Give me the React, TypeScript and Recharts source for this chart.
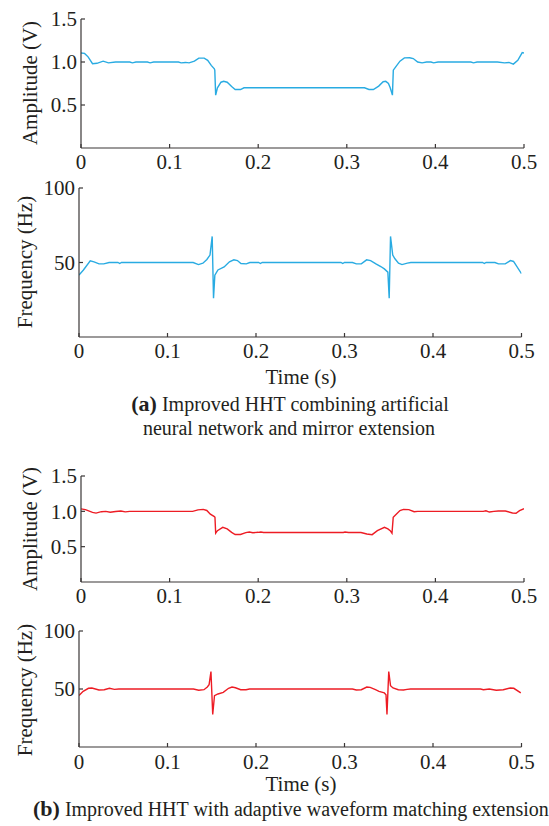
import React from 'react';
import { LineChart, Line, XAxis, YAxis } from 'recharts';

const timeTicks = [0, 0.1, 0.2, 0.3, 0.4, 0.5];
const timeTickLabels = ['0', '0.1', '0.2', '0.3', '0.4', '0.5'];
const ampTicks = [0.5, 1.0, 1.5];
const ampTickLabels = ['0.5', '1.0', '1.5'];
const freqTicks = [50, 100];
const freqTickLabels = ['50', '100'];

// (a) amplitude
const ampATime = [0, 0.004, 0.008, 0.013, 0.018, 0.025, 0.031, 0.039, 0.055, 0.058, 0.062, 0.075, 0.078, 0.082, 0.11, 0.113, 0.118, 0.122, 0.128, 0.133, 0.139, 0.143, 0.147, 0.1505, 0.151, 0.152, 0.154, 0.158, 0.161, 0.165, 0.17, 0.174, 0.18, 0.184, 0.32, 0.325, 0.33, 0.336, 0.341, 0.344, 0.347, 0.349, 0.3515, 0.3525, 0.355, 0.36, 0.365, 0.371, 0.375, 0.38, 0.385, 0.39, 0.395, 0.398, 0.403, 0.44, 0.443, 0.447, 0.47, 0.478, 0.483, 0.488, 0.493, 0.498, 0.5];
const ampAValues = [1.105, 1.1, 1.06, 0.98, 0.985, 1.01, 0.99, 1.0, 1.0, 0.99, 1.0, 1.0, 0.99, 1.0, 1.0, 0.99, 0.995, 0.99, 1.01, 1.045, 1.045, 1.02, 0.96, 0.92, 0.905, 0.615, 0.7, 0.765, 0.775, 0.765, 0.715, 0.68, 0.68, 0.7, 0.7, 0.68, 0.68, 0.72, 0.77, 0.775, 0.75, 0.7, 0.615, 0.905, 0.94, 1.01, 1.048, 1.05, 1.04, 1.0, 0.99, 1.0, 1.0, 0.99, 1.0, 1.0, 0.99, 1.0, 1.0, 0.99, 0.995, 0.975, 1.02, 1.11, 1.105];

// (a) frequency
const freqATime = [0, 0.005, 0.0127, 0.017, 0.0226, 0.028, 0.034, 0.044, 0.046, 0.048, 0.129, 0.135, 0.14, 0.1445, 0.148, 0.1505, 0.152, 0.1535, 0.157, 0.164, 0.17, 0.175, 0.179, 0.183, 0.189, 0.193, 0.203, 0.205, 0.207, 0.296, 0.298, 0.3, 0.309, 0.3134, 0.319, 0.325, 0.3295, 0.3355, 0.341, 0.345, 0.349, 0.3505, 0.352, 0.3545, 0.357, 0.361, 0.365, 0.371, 0.375, 0.456, 0.458, 0.46, 0.47, 0.474, 0.4816, 0.4875, 0.491, 0.5];
const freqAValues = [41.5, 45, 51.1, 50.4, 49.1, 49.1, 50, 50, 49.3, 50, 50, 48.6, 49.5, 52, 55, 67.5, 26, 41.5, 45, 47, 50.5, 51.8, 51.3, 49.3, 49.1, 50, 50, 49.3, 50, 50, 49.3, 50, 50, 49.1, 49.1, 51.8, 51.3, 49.1, 47.3, 45.7, 43.5, 26, 67.5, 55, 52.5, 49.6, 48.6, 49.6, 50, 50, 49.3, 50, 50, 49.1, 49.1, 51.3, 50.7, 42.5];

// (b) amplitude
const ampBTime = [0, 0.005, 0.013, 0.017, 0.023, 0.028, 0.033, 0.039, 0.045, 0.05, 0.055, 0.126, 0.132, 0.138, 0.142, 0.146, 0.1505, 0.1512, 0.152, 0.154, 0.16, 0.165, 0.17, 0.174, 0.18, 0.186, 0.19, 0.194, 0.2, 0.203, 0.206, 0.296, 0.298, 0.302, 0.316, 0.3226, 0.3286, 0.3345, 0.3425, 0.3464, 0.349, 0.351, 0.3524, 0.3544, 0.36, 0.364, 0.37, 0.376, 0.38, 0.454, 0.457, 0.461, 0.466, 0.471, 0.479, 0.487, 0.491, 0.495, 0.5];
const ampBValues = [1.035, 1.025, 0.986, 0.975, 0.995, 1.0, 0.988, 0.998, 1.005, 0.992, 1.0, 1.0, 1.02, 1.028, 1.012, 0.96, 0.925, 0.915, 0.69, 0.726, 0.774, 0.752, 0.703, 0.672, 0.672, 0.698, 0.708, 0.698, 0.703, 0.708, 0.7, 0.7, 0.708, 0.7, 0.7, 0.68, 0.67, 0.726, 0.774, 0.752, 0.726, 0.69, 0.915, 0.94, 1.01, 1.028, 1.024, 0.995, 1.0, 1.0, 1.008, 0.99, 1.0, 1.005, 1.005, 0.976, 0.972, 1.01, 1.038];

// (b) frequency
const freqBTime = [0, 0.0047, 0.0107, 0.0146, 0.0225, 0.0285, 0.0344, 0.04, 0.045, 0.1293, 0.1353, 0.1412, 0.145, 0.147, 0.1491, 0.1511, 0.1531, 0.157, 0.163, 0.169, 0.1729, 0.1768, 0.1827, 0.1887, 0.1926, 0.309, 0.3133, 0.319, 0.3252, 0.329, 0.335, 0.339, 0.345, 0.3469, 0.348, 0.35, 0.352, 0.3548, 0.3608, 0.3667, 0.3707, 0.3746, 0.4537, 0.457, 0.4636, 0.4715, 0.4794, 0.4873, 0.4913, 0.4992];
const freqBValues = [44.3, 48, 50.6, 50.9, 49.1, 49.4, 50.6, 49.7, 50, 50, 48.9, 49.4, 51.7, 53.7, 65.1, 28, 44.3, 45.7, 47.1, 50.6, 51.7, 51.1, 49.4, 49.4, 50, 50, 49.1, 49.4, 51.7, 51.4, 49.4, 48, 46.6, 45.1, 28, 65.1, 52.9, 50.9, 49.4, 49.1, 49.7, 50, 50, 49.4, 50, 48.9, 49.4, 50.9, 50.6, 46.6];

const zip = (ts: number[], vs: number[]) => ts.map((t, i) => ({ t, v: vs[i] }));

const FONT = '"Liberation Serif", "Times New Roman", Times, serif';
const TEXT = '#231f20';
const AXIS = '#3a3636';
const BLUE = '#29abe2';
const RED = '#ed1c24';

type PanelProps = {
  top: number;
  height: number;
  mTop: number;
  mBottom: number;
  left: number;
  right: number;
  data: { t: number; v: number }[];
  color: string;
  yDomain: [number, number];
  yTicks: number[];
  yLabels: string[];
  xTickMargin: number;
};

function Panel(p: PanelProps) {
  const tickStyle = { fontSize: 21, fill: TEXT, fontFamily: FONT };
  return (
    <div style={{ position: 'absolute', left: 0, top: p.top }}>
      <LineChart
        width={549}
        height={p.height}
        data={p.data}
        margin={{ top: p.mTop, bottom: p.mBottom, left: 0, right: 549 - p.right }}
      >
        <XAxis
          dataKey="t"
          type="number"
          domain={[0, 0.5]}
          ticks={timeTicks}
          interval={0}
          tickFormatter={(v: number) => timeTickLabels[timeTicks.indexOf(v)] ?? String(v)}
          height={30}
          tickSize={-4}
          tickMargin={p.xTickMargin}
          axisLine={{ stroke: AXIS, strokeWidth: 1.2 }}
          tickLine={{ stroke: AXIS, strokeWidth: 1.2 }}
          tick={tickStyle}
          allowDataOverflow
        />
        <YAxis
          type="number"
          domain={p.yDomain}
          ticks={p.yTicks}
          interval={0}
          tickFormatter={(v: number) => p.yLabels[p.yTicks.indexOf(v)] ?? String(v)}
          width={p.left}
          tickSize={-4}
          tickMargin={8}
          axisLine={{ stroke: AXIS, strokeWidth: 1.2 }}
          tickLine={{ stroke: AXIS, strokeWidth: 1.2 }}
          tick={tickStyle}
          allowDataOverflow
        />
        <Line
          dataKey="v"
          type="linear"
          stroke={p.color}
          strokeWidth={1.4}
          dot={false}
          activeDot={false}
          isAnimationActive={false}
        />
      </LineChart>
    </div>
  );
}

const textBase: React.CSSProperties = {
  position: 'absolute',
  fontFamily: FONT,
  color: TEXT,
  whiteSpace: 'nowrap',
  lineHeight: 1,
};

function YTitle({ x, y, text }: { x: number; y: number; text: string }) {
  return (
    <div
      style={{
        ...textBase,
        left: x,
        top: y,
        fontSize: 21,
        transform: 'translate(-50%, -50%) rotate(-90deg)',
      }}
    >
      {text}
    </div>
  );
}

function CenterText({ x, y, size, children }: { x: number; y: number; size: number; children: React.ReactNode }) {
  return (
    <div style={{ ...textBase, left: x, top: y, fontSize: size, transform: 'translate(-50%, -50%)' }}>
      {children}
    </div>
  );
}

export default function App() {
  return (
    <div
      style={{
        position: 'absolute',
        left: 0,
        top: 0,
        width: 549,
        height: 826,
        background: '#ffffff',
        overflow: 'hidden',
      }}
    >
      <Panel top={0} height={180} mTop={19} mBottom={2} left={81} right={524}
        data={zip(ampATime, ampAValues)} color={BLUE} yDomain={[0, 1.5]} yTicks={ampTicks} yLabels={ampTickLabels} xTickMargin={10} />
      <Panel top={170} height={200} mTop={18} mBottom={3} left={79} right={521.5}
        data={zip(freqATime, freqAValues)} color={BLUE} yDomain={[0, 100]} yTicks={freqTicks} yLabels={freqTickLabels} xTickMargin={10} />
      <Panel top={460} height={160} mTop={16} mBottom={8} left={81} right={524}
        data={zip(ampBTime, ampBValues)} color={RED} yDomain={[0, 1.5]} yTicks={ampTicks} yLabels={ampTickLabels} xTickMargin={10} />
      <Panel top={615} height={170} mTop={16} mBottom={8} left={79} right={521.5}
        data={zip(freqBTime, freqBValues)} color={RED} yDomain={[0, 100]} yTicks={freqTicks} yLabels={freqTickLabels} xTickMargin={11} />

      <YTitle x={30} y={83} text="Amplitude (V)" />
      <YTitle x={25} y={262} text="Frequency (Hz)" />
      <YTitle x={30} y={529} text="Amplitude (V)" />
      <YTitle x={25} y={690} text="Frequency (Hz)" />

      <CenterText x={301} y={377} size={21}>Time (s)</CenterText>
      <CenterText x={290} y={404} size={20}>
        <b style={{ fontSize: 22 }}>(a)</b> Improved HHT combining artificial
      </CenterText>
      <CenterText x={289} y={428} size={20}>neural network and mirror extension</CenterText>

      <CenterText x={301} y={784} size={21}>Time (s)</CenterText>
      <div style={{ ...textBase, left: 33, top: 809, fontSize: 20, transform: 'translateY(-50%)' }}>
        <b style={{ fontSize: 22 }}>(b)</b> Improved HHT with adaptive waveform matching extension
      </div>
    </div>
  );
}
